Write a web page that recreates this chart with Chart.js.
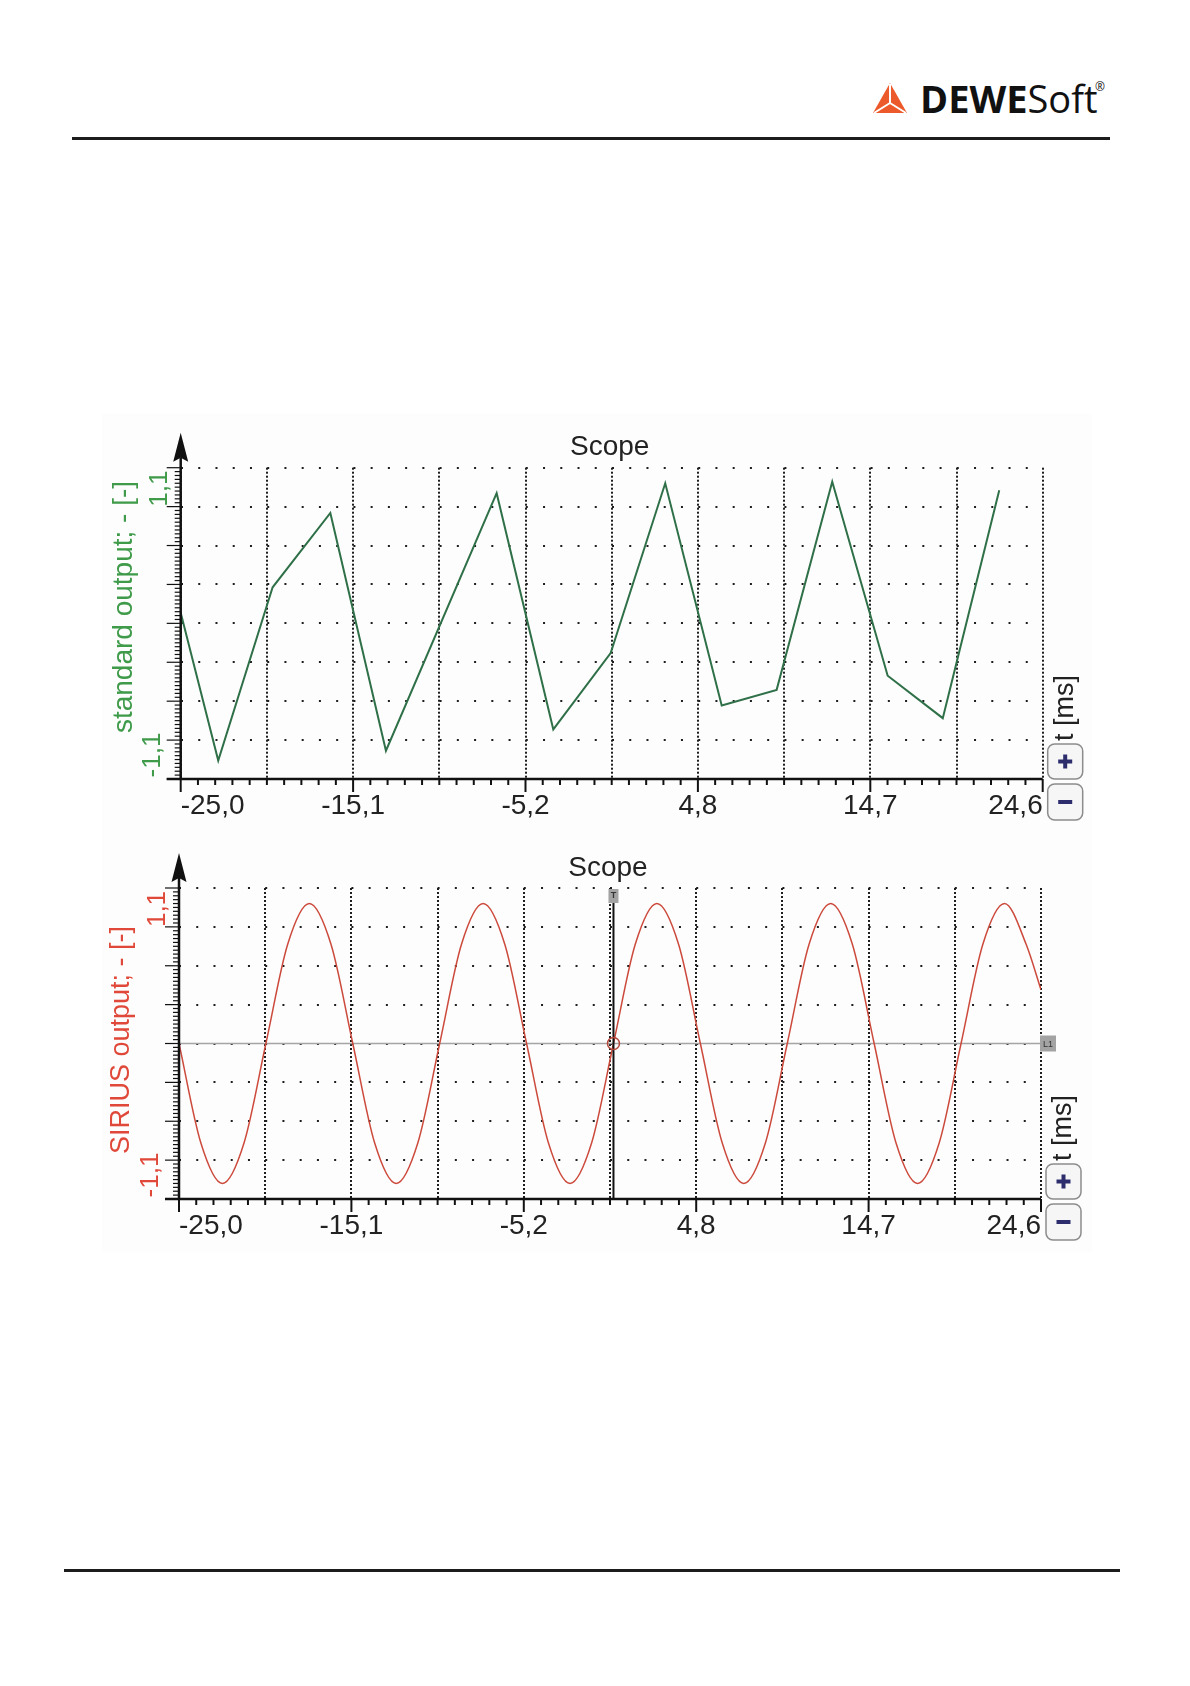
<!DOCTYPE html>
<html>
<head>
<meta charset="utf-8">
<script src="https://cdn.jsdelivr.net/npm/chart.js@4.4.1/dist/chart.umd.min.js"></script>
<style>
  html, body { margin: 0; padding: 0; background: #fff; }
  body { width: 1190px; height: 1686px; position: relative; overflow: hidden; }
  .rule { position: absolute; background: #1c1c1c; }
  .brand { position: absolute; left: 920px; top: 79px; font-family: "Open Sans", sans-serif; font-size: 38px; line-height: 38px; color: #111; white-space: nowrap; }
  .brand b { font-weight: 700; }
  .reg { position: absolute; left: 1095px; top: 78px; font-family: "Open Sans", sans-serif; font-size: 12px; color: #111; }
  .shot { position: absolute; left: 102px; top: 414px; width: 990px; height: 838px; background: #fdfdfd; }
  canvas { position: absolute; left: 0; }
</style>
</head>
<body>
<div class="rule" style="left:72px; top:137px; width:1038px; height:3px;"></div>
<div class="rule" style="left:64px; top:1569px; width:1056px; height:3px;"></div>
<svg style="position:absolute; left:872px; top:82px;" width="36" height="32" viewBox="0 0 36 32">
  <polygon points="18,1 35,31 1,31" fill="#ec5a2b"/>
  <path d="M18 2 L18 21 M18 21 L2 31 M18 21 L34 31" stroke="#fff" stroke-width="2" fill="none"/>
</svg>
<div class="brand"><b>DEWE</b>Soft</div>
<div class="reg">®</div>
<div class="shot"></div>
<canvas id="stdChart" width="1190" height="450" style="top:380px;"></canvas>
<canvas id="siriusChart" width="1190" height="430" style="top:830px;"></canvas>
<script>
// time axis [ms]
const xGridTicks = [-25.0, -20.04, -15.08, -10.12, -5.16, -0.2, 4.76, 9.72, 14.68, 19.64, 24.6];
const xTickLabels = ['-25,0', '', '-15,1', '', '-5,2', '', '4,8', '', '14,7', '', '24,6'];
const yGridTicks = [-1.1, -0.825, -0.55, -0.275, 0, 0.275, 0.55, 0.825, 1.1];
const yEndLabels = ['1,1', '-1,1'];

// standard output (sampled, straight segments)
const stdTime = [-25.0, -22.84, -19.71, -16.39, -13.19, -6.82, -3.56, -0.26, 2.88, 6.13, 9.29, 12.49, 15.68, 18.85, 22.10];
const stdValue = [0.075, -0.97, 0.255, 0.78, -0.90, 0.92, -0.75, -0.21, 0.99, -0.58, -0.47, 1.0, -0.37, -0.67, 0.94];

// SIRIUS output
const siriusTime = [-25, -23.75, -22.5, -21.25, -20, -18.75, -17.5, -16.25, -15, -13.75, -12.5, -11.25,
  -10, -8.75, -7.5, -6.25, -5, -3.75, -2.5, -1.25, 0, 1.25, 2.5, 3.75, 5, 6.25, 7.5, 8.75,
  10, 11.25, 12.5, 13.75, 15, 16.25, 17.5, 18.75, 20, 21.25, 22.5, 23.75, 24.6];
const siriusValue = [0, -0.7, -0.99, -0.7, 0, 0.7, 0.99, 0.7, 0, -0.7, -0.99, -0.7,
  0, 0.7, 0.99, 0.7, 0, -0.7, -0.99, -0.7, 0, 0.7, 0.99, 0.7, 0, -0.7, -0.99, -0.7,
  0, 0.7, 0.99, 0.7, 0, -0.7, -0.99, -0.7, 0, 0.7, 0.99, 0.7, 0.38];

const FONT = '"Liberation Sans", Arial, sans-serif';

function rotText(ctx, text, x, y, size, color) {
    ctx.save();
    ctx.translate(x, y);
    ctx.rotate(-Math.PI / 2);
    ctx.font = size + 'px ' + FONT;
    ctx.fillStyle = color;
    ctx.textAlign = 'center';
    ctx.textBaseline = 'middle';
    ctx.fillText(text, 0, 0);
    ctx.restore();
}

function zoomButton(ctx, x, y, w, h, plus) {
    ctx.beginPath();
    ctx.roundRect(x, y, w, h, 7);
    ctx.fillStyle = '#f6f6f6';
    ctx.fill();
    ctx.strokeStyle = '#8c8c8c';
    ctx.lineWidth = 1.5;
    ctx.stroke();
    ctx.fillStyle = '#2d2d6e';
    const cx = x + w / 2, cy = y + h / 2;
    ctx.fillRect(cx - 7, cy - 2, 14, 4);
    if (plus) ctx.fillRect(cx - 2, cy - 7, 4, 14);
}

// axes, ruler ticks, labels and DEWESoft widgets
const scopeDecor = {
    id: 'scopeDecor',
    beforeDatasetsDraw(chart, args, o) {
        if (!o.level) return;
        const { ctx, chartArea: a, scales: { y } } = chart;
        const y0 = y.getPixelForValue(0);
        ctx.save();
        ctx.strokeStyle = '#a5a5a5';
        ctx.lineWidth = 1.5;
        ctx.beginPath();
        ctx.moveTo(a.left, y0);
        ctx.lineTo(a.right, y0);
        ctx.stroke();
        ctx.restore();
    },
    afterDatasetsDraw(chart, args, o) {
        const { ctx, chartArea: a, scales: { x, y } } = chart;
        ctx.save();
        ctx.strokeStyle = '#111';
        ctx.fillStyle = '#111';

        // y ruler
        ctx.lineWidth = 1.2;
        for (let i = 0; i <= 80; i++) {
            const py = y.getPixelForValue(-1.1 + i * 0.0275);
            const len = i % 10 === 0 ? 14 : 6;
            ctx.beginPath();
            ctx.moveTo(a.left - len, py);
            ctx.lineTo(a.left, py);
            ctx.stroke();
        }
        // x ticks
        ctx.lineWidth = 2;
        for (let i = 0; i <= 50; i++) {
            const px = x.getPixelForValue(-25 + i * 0.992);
            const len = i % 10 === 0 ? 13 : 6;
            ctx.beginPath();
            ctx.moveTo(px, a.bottom);
            ctx.lineTo(px, a.bottom + len);
            ctx.stroke();
        }
        // axis lines + arrow
        ctx.lineWidth = 2.5;
        ctx.beginPath();
        ctx.moveTo(a.left - 14, a.bottom);
        ctx.lineTo(a.right, a.bottom);
        ctx.moveTo(a.left, a.top - 10);
        ctx.lineTo(a.left, a.bottom);
        ctx.stroke();
        ctx.beginPath();
        ctx.moveTo(a.left, a.top - 35);
        ctx.lineTo(a.left + 7.5, a.top - 6);
        ctx.lineTo(a.left, a.top - 10);
        ctx.lineTo(a.left - 7.5, a.top - 6);
        ctx.closePath();
        ctx.fill();

        // trigger cursor
        if (o.trigger) {
            const tx = x.getPixelForValue(0);
            const ty = y.getPixelForValue(0);
            ctx.lineWidth = 2;
            ctx.strokeStyle = '#111';
            ctx.beginPath();
            ctx.moveTo(tx, a.top + 14);
            ctx.lineTo(tx, a.bottom);
            ctx.stroke();
            ctx.fillStyle = '#a3a3a3';
            ctx.fillRect(tx - 5, a.top + 1, 10, 14);
            ctx.fillStyle = '#333';
            ctx.font = 'bold 9px ' + FONT;
            ctx.textAlign = 'center';
            ctx.textBaseline = 'middle';
            ctx.fillText('T', tx, a.top + 8);
            ctx.strokeStyle = '#b4463a';
            ctx.lineWidth = 1.5;
            ctx.beginPath();
            ctx.arc(tx, ty, 6, 0, Math.PI * 2);
            ctx.stroke();
            // level marker
            ctx.fillStyle = '#a3a3a3';
            ctx.fillRect(a.right - 1, ty - 8, 16, 16);
            ctx.fillStyle = '#333';
            ctx.font = '9px ' + FONT;
            ctx.fillText('L1', a.right + 7, ty + 1);
        }

        // texts
        ctx.fillStyle = '#222';
        ctx.font = '28px ' + FONT;
        ctx.textAlign = 'center';
        ctx.textBaseline = 'middle';
        ctx.fillText('Scope', (a.left + a.right) / 2 - 2, a.top - 20);
        rotText(ctx, yEndLabels[0], a.left - 21, a.top + 21, 26, o.color);
        rotText(ctx, yEndLabels[1], a.left - 28, a.bottom - 24, 26, o.color);
        rotText(ctx, o.title, o.titleX, o.titleY, o.titleSize, o.color);
        rotText(ctx, 't [ms]', a.right + 23, a.bottom - 71, 27, '#222');

        zoomButton(ctx, a.right + 5, a.bottom - 35, 35, 35, true);
        zoomButton(ctx, a.right + 5, a.bottom + 5, 35, 36, false);
        ctx.restore();
    }
};

function scopeChart(canvasId, times, values, lineColor, lineWidth, smooth, pad, decor) {
    const ctx = document.getElementById(canvasId).getContext('2d');
    return new Chart(ctx, {
        type: 'line',
        data: {
            datasets: [{
                data: times.map((t, i) => ({ x: t, y: values[i] })),
                borderColor: lineColor,
                borderWidth: lineWidth,
                pointRadius: 0,
                cubicInterpolationMode: smooth ? 'monotone' : 'default',
                tension: 0,
                fill: false
            }]
        },
        options: {
            responsive: false,
            animation: false,
            devicePixelRatio: 1,
            layout: { padding: pad },
            plugins: {
                legend: { display: false },
                tooltip: { enabled: false },
                title: { display: false },
                scopeDecor: decor
            },
            scales: {
                x: {
                    type: 'linear',
                    min: -25.0,
                    max: 24.6,
                    afterBuildTicks: s => { s.ticks = xGridTicks.map(v => ({ value: v })); },
                    afterFit: s => { s.height = 40; },
                    grid: { color: '#1e1e1e', lineWidth: 2, drawTicks: false },
                    border: { display: false, dash: [2, 2] },
                    ticks: {
                        autoSkip: false,
                        maxRotation: 0,
                        minRotation: 0,
                        align: 'inner',
                        padding: 10,
                        color: '#222',
                        font: { size: 28, family: FONT },
                        callback: (v, i) => xTickLabels[i]
                    }
                },
                y: {
                    type: 'linear',
                    min: -1.1,
                    max: 1.1,
                    afterBuildTicks: s => { s.ticks = yGridTicks.map(v => ({ value: v })); },
                    afterFit: s => { s.width = 0; },
                    grid: { color: '#1e1e1e', lineWidth: 2, drawTicks: false },
                    border: { display: false, dash: [2, 15.24] },
                    ticks: { display: false }
                }
            }
        },
        plugins: [scopeDecor]
    });
}

scopeChart('stdChart', stdTime, stdValue, '#2f7048', 2, false,
    { left: 180.7, right: 147.3, top: 87.7, bottom: 11 },
    { color: '#3f9a4a', title: 'standard output; - [-]', titleX: 124, titleY: 227, titleSize: 28,
      level: false, trigger: false });

scopeChart('siriusChart', siriusTime, siriusValue, '#cc4a3c', 1.5, true,
    { left: 179, right: 149, top: 58, bottom: 21 },
    { color: '#e0493a', title: 'SIRIUS output; - [-]', titleX: 122, titleY: 210, titleSize: 27,
      level: true, trigger: true });
</script>
</body>
</html>
